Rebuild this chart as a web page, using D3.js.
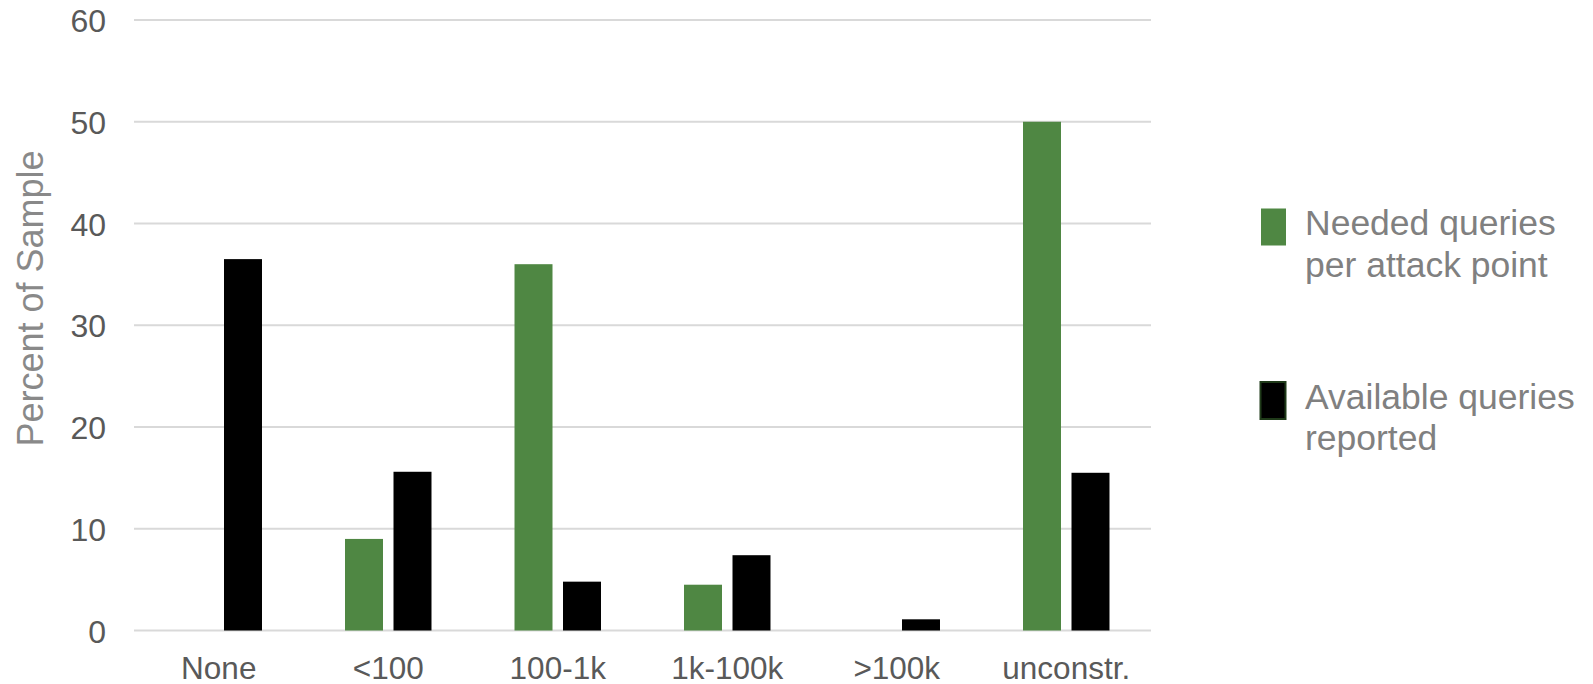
<!DOCTYPE html>
<html>
<head>
<meta charset="utf-8">
<script src="https://cdn.jsdelivr.net/npm/d3@7"></script>
<style>
  body { margin: 0; background: #fff; }
  svg { display: block; font-family: "Liberation Sans", Arial, sans-serif; }
</style>
</head>
<body>
<svg id="chart"></svg>
<script>
// Chart data
const categories = ["None", "<100", "100-1k", "1k-100k", ">100k", "unconstr."];
const seriesNames = ["Needed queries per attack point", "Available queries reported"];
const neededQueries = [0, 9, 36, 4.5, 0, 50];
const availableQueries = [36.5, 15.6, 4.8, 7.4, 1.1, 15.5];
const yTicks = [0, 10, 20, 30, 40, 50, 60];
const legendLines = [["Needed queries", "per attack point"], ["Available queries", "reported"]];

const width = 1593;
const height = 684;
const margin = { top: 20, right: 442, bottom: 53.5, left: 134 };

const colors = ["#4f8743", "#000000"];

const svg = d3.select("#chart")
    .attr("width", width)
    .attr("height", height);

// Scales
const x0 = d3.scaleBand()
    .domain(categories)
    .range([margin.left, width - margin.right])
    .padding(0);

const x1 = d3.scaleBand()
    .domain(seriesNames)
    .range([0, x0.bandwidth()])
    .paddingInner(0.2165)
    .paddingOuter(0.856);

const y = d3.scaleLinear()
    .domain([0, 60])
    .range([height - margin.bottom, margin.top]);

// Gridlines
svg.append("g")
    .selectAll("line")
    .data(yTicks)
    .enter().append("line")
    .attr("x1", margin.left)
    .attr("x2", width - margin.right)
    .attr("y1", d => y(d))
    .attr("y2", d => y(d))
    .attr("stroke", "#d9d9d9")
    .attr("stroke-width", 2);

// Y axis labels
const yAxis = svg.append("g")
    .attr("transform", `translate(${margin.left - 28}, 0)`)
    .call(d3.axisLeft(y).tickValues(yTicks).tickSize(0).tickPadding(0));
yAxis.select(".domain").remove();
yAxis.selectAll("text")
    .attr("fill", "#595959")
    .style("font-size", "32px")
    .attr("dy", "0.36em");

// X axis labels
const xAxis = svg.append("g")
    .attr("transform", `translate(0, ${y(0)})`)
    .call(d3.axisBottom(x0).tickSize(0).tickPadding(0));
xAxis.select(".domain").remove();
xAxis.selectAll("text")
    .attr("fill", "#595959")
    .style("font-size", "31.5px")
    .attr("y", 48)
    .attr("dy", 0);

// Y axis title
svg.append("text")
    .attr("transform", "translate(43, 298.5) rotate(-90)")
    .attr("text-anchor", "middle")
    .attr("fill", "#898989")
    .style("font-size", "36px")
    .text("Percent of Sample");

// Bars
const rows = categories.map((c, i) => ({
    category: c,
    values: [neededQueries[i], availableQueries[i]]
}));

const groups = svg.append("g")
    .selectAll("g")
    .data(rows)
    .enter().append("g")
    .attr("transform", d => `translate(${x0(d.category)}, 0)`);

groups.selectAll("rect")
    .data(d => d.values.map((v, k) => ({ key: seriesNames[k], value: v, k: k })))
    .enter().append("rect")
    .filter(d => d.value > 0)
    .attr("x", d => x1(d.key))
    .attr("width", x1.bandwidth())
    .attr("y", d => y(d.value))
    .attr("height", d => y(0) - y(d.value))
    .attr("fill", d => colors[d.k]);

// Legend
const legend = svg.append("g");
const legendTop = [208.5, 382];
seriesNames.forEach((name, k) => {
    const g = legend.append("g").attr("transform", `translate(1261, ${legendTop[k]})`);
    g.append("rect")
        .attr("x", k === 1 ? -0.5 : 0)
        .attr("width", 25)
        .attr("height", 37)
        .attr("fill", colors[k])
        .attr("stroke", k === 1 ? "#1f3a19" : "none")
        .attr("stroke-width", 2);
    const t = g.append("text")
        .attr("x", 44)
        .attr("y", 26.5)
        .attr("fill", "#808080")
        .style("font-size", "35.5px");
    legendLines[k].forEach((line, j) => {
        t.append("tspan")
            .attr("x", 44)
            .attr("dy", j === 0 ? 0 : 41.5)
            .text(line);
    });
});
</script>
</body>
</html>
